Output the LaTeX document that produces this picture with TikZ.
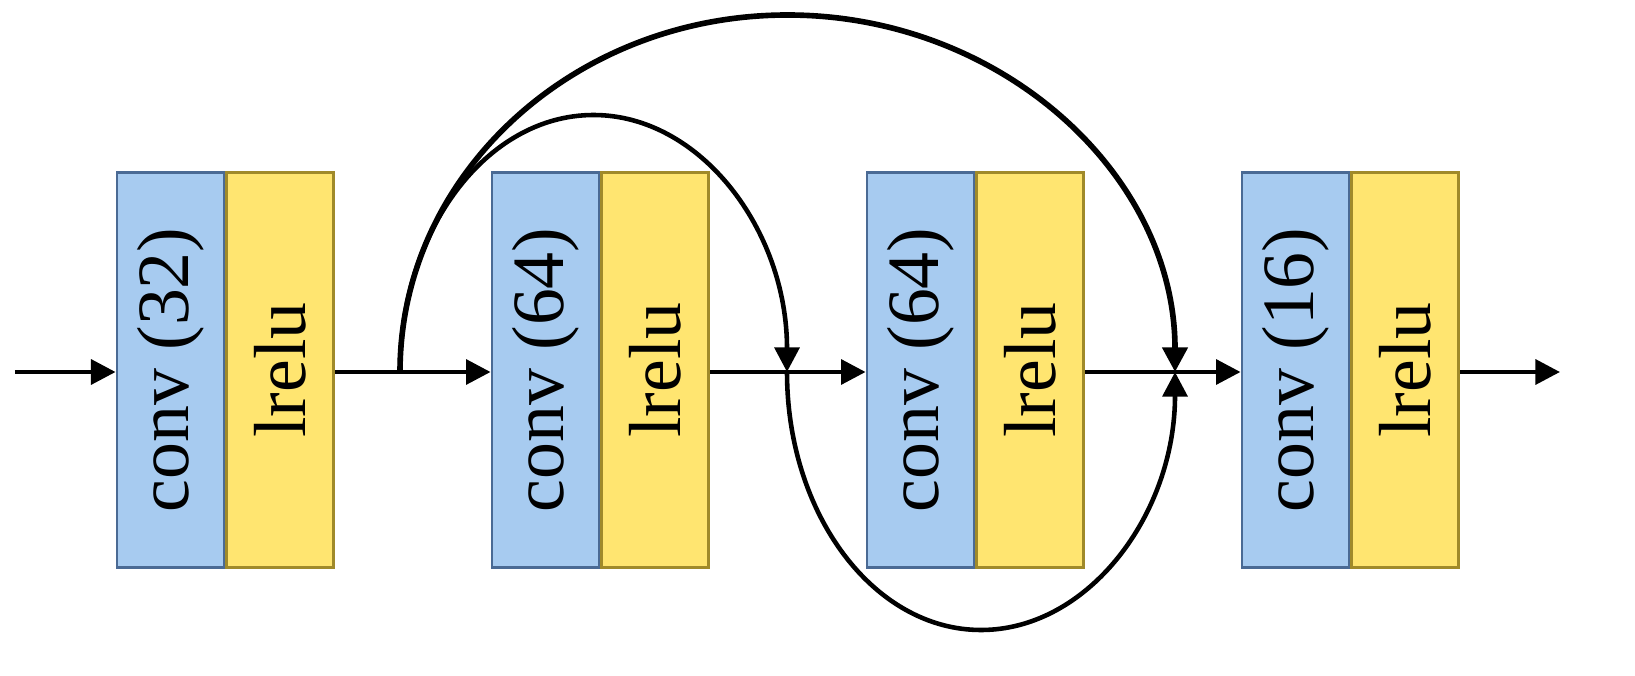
\documentclass[tikz,border=0pt]{standalone}
\usepackage{fontspec}
\setmainfont{Liberation Serif}
\usetikzlibrary{positioning,arrows.meta}
\definecolor{convfill}{HTML}{A7CBF0}
\definecolor{convdraw}{HTML}{4A6A94}
\definecolor{relufill}{HTML}{FFE570}
\definecolor{reludraw}{HTML}{A08A2A}
\tikzset{
  layer/.style={rectangle, minimum width=1.07cm, minimum height=3.95cm, inner sep=0pt, line width=0.8pt},
  conv/.style={layer, fill=convfill, draw=convdraw},
  relu/.style={layer, fill=relufill, draw=reludraw},
  lbl/.style={rotate=90, font=\fontsize{21}{24}\selectfont},
  flow/.style={line width=1.3pt, -{Triangle[length=7pt,width=7pt]}}
}
\begin{document}
\begin{tikzpicture}
\useasboundingbox (0,0) rectangle (16.35,6.75);
\foreach \i/\n in {1/32,2/64,3/64,4/16}{
  \node[conv] (conv\i) at ({1.705+3.75*(\i-1)},3.05) {};
  \node[lbl] at (conv\i) {conv (\n)};
  \node[relu] (lrelu\i) [right=0pt of conv\i] {};
  \node[lbl] at (lrelu\i) {lrelu};
}
\coordinate (in) at (0.15,3.03);
\coordinate (out) at (15.6,3.03);
\coordinate (j0) at (4.0,3.03);
\coordinate (j1) at (7.87,3.03);
\coordinate (j2) at (11.75,3.03);

\draw[flow] (in) -- (in -| conv1.west);
\draw[flow] (lrelu1.east |- in) -- (in -| conv2.west);
\draw[flow] (lrelu2.east |- in) -- (in -| conv3.west);
\draw[flow] (lrelu3.east |- in) -- (in -| conv4.west);
\draw[flow] (lrelu4.east |- in) -- (out);

% skip connections
\draw[flow, line width=1.6pt] (j0) arc[start angle=180, end angle=0, x radius=3.875cm, y radius=3.57cm];
\draw[flow] (j0) arc[start angle=180, end angle=0, x radius=1.935cm, y radius=2.57cm];
\draw[flow] (j1) arc[start angle=180, end angle=360, x radius=1.94cm, y radius=2.58cm];
\end{tikzpicture}
\end{document}
